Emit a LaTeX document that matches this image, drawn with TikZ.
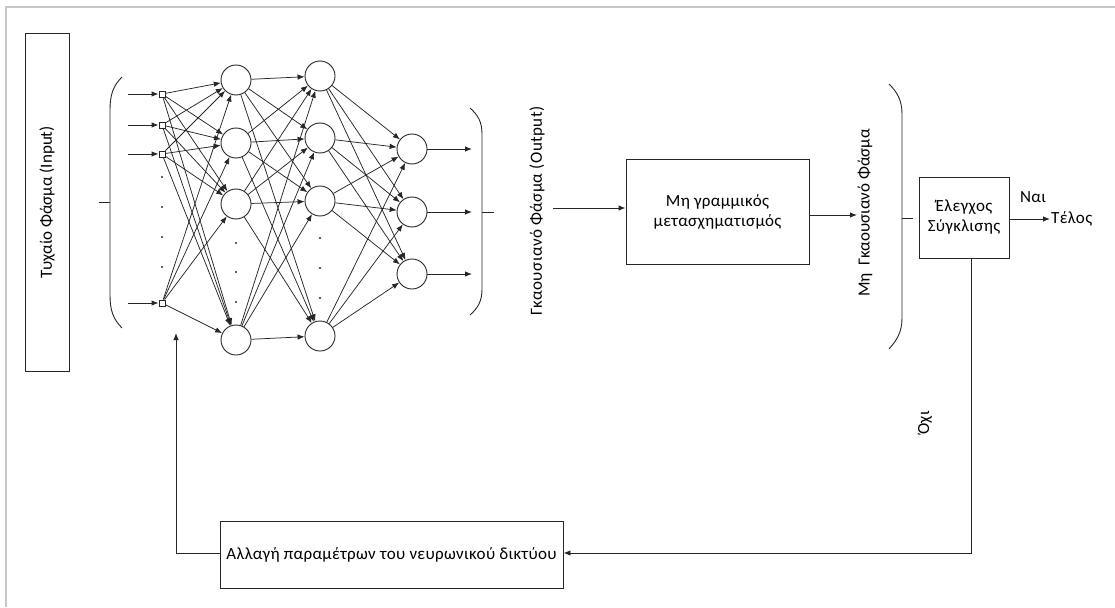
\documentclass[tikz,border=0pt]{standalone}
\usepackage{fontspec}
\setmainfont{Carlito}[LetterSpace=2]
\newfontfamily\tightfont{Carlito}
\newfontfamily\widefont[LetterSpace=2.5]{Carlito}
\usetikzlibrary{arrows.meta}
\begin{document}
\begin{tikzpicture}[x=1pt,y=-1pt,
  ink/.style={draw=black!85, line width=0.9pt},
  tip/.style={-{Latex[length=7pt,width=5.5pt]}},
  neuron/.style={ink, circle, fill=white, minimum size=30pt, inner sep=0pt},
  inunit/.style={ink, rectangle, fill=white, minimum size=6pt, inner sep=0pt},
  blockbox/.style={ink, rectangle, align=center, inner sep=2pt},
  lbl/.style={font=\fontsize{17}{20}\selectfont, align=center, inner sep=1pt},
  tightlbl/.style={font=\tightfont\fontsize{17}{20}\selectfont, align=center, inner sep=1pt},
  widelbl/.style={font=\widefont\fontsize{17}{20}\selectfont, align=center, inner sep=1pt},
  dotmark/.style={circle, fill=black!85, minimum size=2.4pt, inner sep=0pt}
]
\useasboundingbox (0,0) rectangle (1115,607);
% light frame along the top and left edges
\draw[black!22, line width=1.2pt] (1115,7) -- (6,7) -- (6,607);

% input spectrum box
\node[blockbox, tightlbl, rotate=90, minimum width=338pt, minimum height=44pt] (inbox) at (47,202.5) {Τυχαίο Φάσμα (Input)};

% left parenthesis around the input layer
\draw[ink] (122,77) .. controls (113,86) and (110,95) .. (110,110) -- (110,295)
  .. controls (110,310) and (113,319) .. (122,328);
\coordinate (lbrtick) at (110,202);
\coordinate (lbrend) at (99,202);
\draw[ink] (lbrtick) -- (lbrend);

% input layer
\foreach \n/\y in {1/94,2/125,3/154,4/303}{
  \node[inunit] (i\n) at (162,\y) {};
  \coordinate (src\n) at (128,\y);
}
% hidden layer 1
\foreach \n/\y in {1/80,2/143,3/204,4/340}{ \node[neuron] (a\n) at (236,\y) {}; }
% hidden layer 2
\foreach \n/\y in {1/76,2/138,3/201,4/336}{ \node[neuron] (b\n) at (320,\y) {}; }
% output layer
\foreach \n/\y in {1/149,2/212,3/274}{
  \node[neuron] (o\n) at (412,\y) {};
  \coordinate (dst\n) at (472,\y);
}

% ellipsis dots
\foreach \y in {177,207,237,267}{ \node[dotmark] at (162,\y) {}; }
\foreach \y in {243,272,302}{ \node[dotmark] at (236,\y) {}; }
\foreach \y in {238,268,298}{ \node[dotmark] at (320,\y) {}; }

% weights
\foreach \n in {1,...,4}{ \draw[ink, tip] (src\n) -- (i\n); }
\foreach \s in {1,...,4}{
  \foreach \t in {1,...,4}{
    \draw[ink, line width=0.75pt, tip] (i\s) -- (a\t);
    \draw[ink, line width=0.75pt, tip] (a\s) -- (b\t);
  }
  \foreach \t in {1,2,3}{ \draw[ink, line width=0.75pt, tip] (b\s) -- (o\t); }
}
\foreach \n in {1,2,3}{ \draw[ink, tip] (o\n) -- (dst\n); }

% right parenthesis around the outputs
\draw[ink] (470,108) .. controls (478,115) and (482,122) .. (482,134) -- (482,289)
  .. controls (482,301) and (478,308) .. (470,315);
\coordinate (rbrtick) at (482,212);
\coordinate (rbrend) at (494,212);
\draw[ink] (rbrtick) -- (rbrend);

% output spectrum label
\node[widelbl, rotate=90] (outlbl) at (537,211) {Γκαουσιανό Φάσμα (Output)};

% nonlinear transformation
\node[blockbox, lbl, minimum width=183pt, minimum height=105pt] (nl) at (717.5,211.5) {Μη γραμμικός\\μετασχηματισμός};
\coordinate (nlin) at (553,208);
\draw[ink, tip] (nlin) -- (nlin -| nl.west);
\coordinate (nlout) at (857,215);
\draw[ink, tip] (nl.east |- nlout) -- (nlout);

\node[tightlbl, rotate=90] (nglbl) at (865,213) {Μη \ Γκαουσιανό Φάσμα};

% parenthesis closing the non-Gaussian spectrum
\draw[ink] (889,84) .. controls (897,92) and (902,100) .. (902,114) -- (902,318)
  .. controls (902,332) and (897,340) .. (889,349);
\coordinate (ngtick) at (902,218);
\coordinate (ngend) at (913,218);
\draw[ink] (ngtick) -- (ngend);

% convergence check
\node[blockbox, lbl, minimum width=90pt, minimum height=81pt] (chk) at (964,217.5) {Έλεγχος\\Σύγκλισης};
\node[lbl, anchor=west] (endlbl) at (1050,219) {Τέλος};
\draw[ink, tip] (chk.east |- endlbl) -- (endlbl);
\node[lbl] (yes) at (1033,197) {Ναι};

% feedback path
\node[blockbox, lbl, minimum width=343pt, minimum height=67pt] (upd) at (391.5,554.5) {Αλλαγή παραμέτρων του νευρωνικού δικτύου};
\coordinate (fbdown) at (971,553);
\coordinate (fbtop) at (971,258);
\draw[ink, tip] (fbtop) -- (fbdown) -- (upd.east |- fbdown);
\coordinate (fbcorner) at (176,553);
\coordinate (fbtip) at (176,333);
\draw[ink, tip] (upd.west |- fbcorner) -- (fbcorner) -- (fbtip);
\node[lbl, rotate=90] (no) at (925,423) {Όχι};
\end{tikzpicture}
\end{document}
